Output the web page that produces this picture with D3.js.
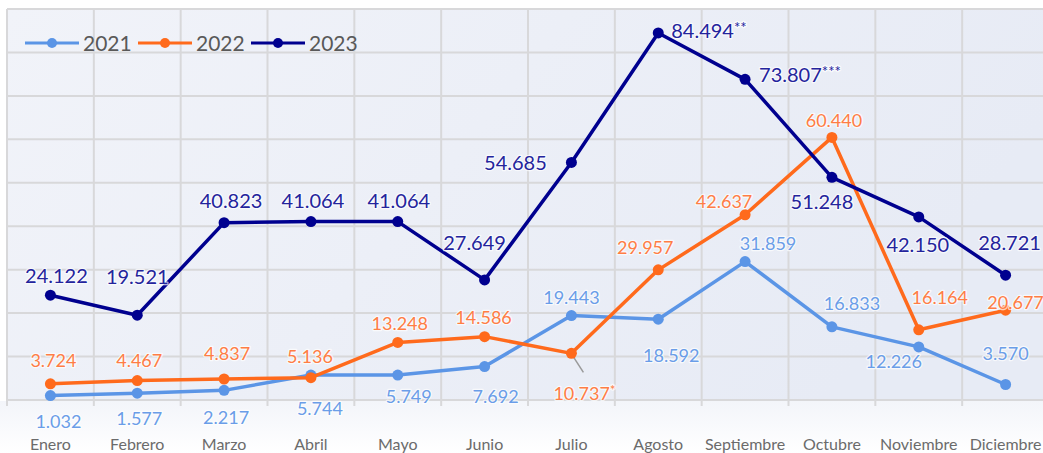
<!DOCTYPE html>
<html>
<head>
<meta charset="utf-8">
<script src="https://cdn.jsdelivr.net/npm/d3@7"></script>
<style>
  html, body { margin: 0; padding: 0; background: #fff; }
  svg { display: block; font-family: Lato, "Open Sans", sans-serif; }
  .halo { paint-order: stroke; stroke: #fff; stroke-width: 2.5px; stroke-opacity: 0.7; stroke-linejoin: round; }
</style>
</head>
<body>
<svg id="chart"></svg>
<script>
const months = ['Enero', 'Febrero', 'Marzo', 'Abril', 'Mayo', 'Junio', 'Julio',
  'Agosto', 'Septiembre', 'Octubre', 'Noviembre', 'Diciembre'];
const years = ['2021', '2022', '2023'];
const values2021 = [1032, 1577, 2217, 5744, 5749, 7692, 19443, 18592, 31859, 16833, 12226, 3570];
const values2022 = [3724, 4467, 4837, 5136, 13248, 14586, 10737, 29957, 42637, 60440, 16164, 20677];
const values2023 = [24122, 19521, 40823, 41064, 41064, 27649, 54685, 84494, 73807, 51248, 42150, 28721];
// asterisks after some labels (notes in the original)
const notes2022 = ['', '', '', '', '', '', '*', '', '', '', '', ''];
const notes2023 = ['', '', '', '', '', '', '', '**', '***', '', '', ''];
const yTicks = d3.range(0, 90001, 10000);

// label placement relative to its point: [dx, dy, anchor]
const place2021 = [[8, 32], [2, 32], [2, 34], [9, 40], [11, 28], [11, 36], [0, -12], [13, 43], [23, -12], [20, -17], [-25, 21], [0, -24]];
const place2022 = [[3, -17], [2, -14], [3, -19], [-1, -15], [2, -12], [-1, -13], [-18, 47, 'start'], [-13, -16], [-21, -7], [2, -10], [21, -26], [10, -1]];
const place2023 = [[6, -12], [0, -31], [7, -15], [2, -14], [1, -14], [-10, -30], [-56, 8], [13, 5, 'start'], [14, 3, 'start'], [-10, 32], [-1, 35], [4, -25]];

const series = [
  { name: years[0], values: values2021, notes: [], place: place2021, line: '#5b95e6', label: '#6a9de8', size: 18 },
  { name: years[1], values: values2022, notes: notes2022, place: place2022, line: '#ff6a1c', label: '#ff7d45', size: 18 },
  { name: years[2], values: values2023, notes: notes2023, place: place2023, line: '#00008f', label: '#24249c', size: 20 }
];

const W = 1043, H = 453;
const svg = d3.select('#chart').attr('width', W).attr('height', H);

const defs = svg.append('defs');
const bg = defs.append('linearGradient').attr('id', 'bg')
  .attr('x1', 0).attr('y1', 0).attr('x2', 1).attr('y2', 0.3);
bg.append('stop').attr('offset', '0%').attr('stop-color', '#f1f3f9');
bg.append('stop').attr('offset', '100%').attr('stop-color', '#e7ebf5');
const fade = defs.append('linearGradient').attr('id', 'fade')
  .attr('x1', 0).attr('y1', 0).attr('x2', 0).attr('y2', 1);
fade.append('stop').attr('offset', '0%').attr('stop-color', '#f3f5fa');
fade.append('stop').attr('offset', '100%').attr('stop-color', '#ffffff');

const x = d3.scaleBand().domain(months).range([7, 1049]).padding(0);
const y = d3.scaleLinear().domain([0, 90000]).range([400, 9]);
const cx = m => x(m) + x.bandwidth() / 2;

svg.append('rect').attr('width', W).attr('height', H).attr('fill', '#fff');
svg.append('rect').attr('x', 7).attr('y', y(90000)).attr('width', W - 7).attr('height', y(0) - y(90000))
  .attr('fill', 'url(#bg)');
svg.append('rect').attr('x', 0).attr('y', y(0) + 1).attr('width', W).attr('height', H - y(0))
  .attr('fill', 'url(#fade)');

// grid
const grid = svg.append('g').attr('stroke', '#d8d8da').attr('stroke-width', 2);
grid.selectAll('.h').data(yTicks).join('line')
  .attr('x1', 7).attr('x2', W).attr('y1', d => y(d)).attr('y2', d => y(d));
grid.selectAll('.v').data(months).join('line')
  .attr('x1', d => x(d)).attr('x2', d => x(d)).attr('y1', y(90000)).attr('y2', y(0) + 6);

// month labels
svg.append('g').selectAll('text').data(months).join('text')
  .attr('x', d => cx(d)).attr('y', 450)
  .attr('text-anchor', 'middle').attr('font-size', 16).attr('fill', '#6b6b6b')
  .text(d => d);

const line = d3.line().x((d, i) => cx(months[i])).y(d => y(d));

// leader line for Julio 2022
svg.append('line')
  .attr('x1', cx('Julio') + 1).attr('y1', y(values2022[6]) + 2)
  .attr('x2', cx('Julio') + 12).attr('y2', y(values2022[6]) + 19)
  .attr('stroke', '#999').attr('stroke-width', 1.5);

series.forEach(s => {
  const g = svg.append('g');
  g.append('path').datum(s.values).attr('d', line)
    .attr('fill', 'none').attr('stroke', s.line).attr('stroke-width', 3.5).attr('stroke-linejoin', 'round');
  g.selectAll('circle').data(s.values).join('circle')
    .attr('cx', (d, i) => cx(months[i])).attr('cy', d => y(d)).attr('r', 5.5).attr('fill', s.line);
});

const fmt = d3.formatLocale({ decimal: ',', thousands: '.', grouping: [3] }).format(',');

series.forEach(s => {
  const t = svg.append('g').selectAll('text').data(s.values).join('text')
    .attr('class', 'halo')
    .attr('x', (d, i) => cx(months[i]) + s.place[i][0])
    .attr('y', (d, i) => y(d) + s.place[i][1])
    .attr('text-anchor', (d, i) => s.place[i][2] || 'middle')
    .attr('font-size', s.size).attr('fill', s.label);
  t.append('tspan').text(d => fmt(d));
  t.append('tspan').attr('font-size', s.size * 0.75).attr('dy', -5)
    .text((d, i) => s.notes[i] || '');
});

// legend
const legend = svg.append('g');
const legX = [25, 138, 251];
series.forEach((s, i) => {
  const lg = legend.append('g').attr('transform', `translate(${legX[i]},43)`);
  lg.append('line').attr('x1', 0).attr('x2', 54).attr('stroke', s.line).attr('stroke-width', 3);
  lg.append('circle').attr('cx', 27).attr('r', 5).attr('fill', s.line);
  lg.append('text').attr('x', 58).attr('y', 8).attr('font-size', 21).attr('fill', '#595959').text(s.name);
});
</script>
</body>
</html>
